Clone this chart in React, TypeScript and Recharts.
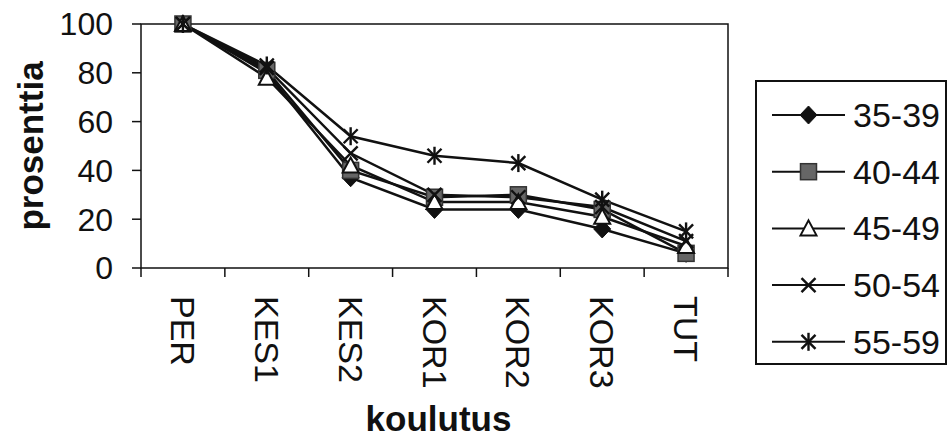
import React from 'react';
import { LineChart, Line, XAxis, YAxis, ReferenceArea, Legend } from 'recharts';

const categories = ['PER', 'KES1', 'KES2', 'KOR1', 'KOR2', 'KOR3', 'TUT'];
const s3539 = [100, 80, 37, 24, 24, 16, 6];
const s4044 = [100, 81, 40, 29, 30, 24, 6];
const s4549 = [100, 78, 42, 27, 27, 21, 9];
const s5054 = [100, 82, 47, 30, 29, 25, 11];
const s5559 = [100, 83, 54, 46, 43, 28, 15];
const seriesNames = ['35-39', '40-44', '45-49', '50-54', '55-59'];
const seriesValues = [s3539, s4044, s4549, s5054, s5559];
const markerKinds = ['diamond', 'square', 'triangle', 'x', 'star'];
const yTicks = [0, 20, 40, 60, 80, 100];

const FONT = '"Liberation Sans", Arial, Helvetica, sans-serif';
const INK = '#111';

const data = categories.map((c, i) => {
  const row: any = { cat: c, pos: i + 0.5 };
  seriesNames.forEach((n, j) => {
    row[n] = seriesValues[j][i];
  });
  return row;
});

const xTicks: number[] = [];
for (let i = 0; i <= categories.length; i++) {
  xTicks.push(i);
  if (i < categories.length) xTicks.push(i + 0.5);
}

function Marker({ kind, cx, cy }: { kind: string; cx: number; cy: number }) {
  if (cx == null || cy == null) return null;
  if (kind === 'diamond') {
    return (
      <polygon
        points={`${cx},${cy - 9} ${cx + 8.5},${cy} ${cx},${cy + 9} ${cx - 8.5},${cy}`}
        fill={INK}
        stroke={INK}
        strokeWidth={1}
      />
    );
  }
  if (kind === 'square') {
    return <rect x={cx - 8} y={cy - 8} width={16} height={16} fill="#666" stroke="#333" strokeWidth={1.5} />;
  }
  if (kind === 'triangle') {
    return (
      <polygon
        points={`${cx},${cy - 8} ${cx + 8},${cy + 7} ${cx - 8},${cy + 7}`}
        fill="#fff"
        stroke={INK}
        strokeWidth={2}
      />
    );
  }
  if (kind === 'x') {
    return (
      <g stroke={INK} strokeWidth={2.4}>
        <line x1={cx - 7} y1={cy - 7} x2={cx + 7} y2={cy + 7} />
        <line x1={cx - 7} y1={cy + 7} x2={cx + 7} y2={cy - 7} />
      </g>
    );
  }
  return (
    <g stroke={INK} strokeWidth={2.4}>
      <line x1={cx - 7} y1={cy - 7} x2={cx + 7} y2={cy + 7} />
      <line x1={cx - 7} y1={cy + 7} x2={cx + 7} y2={cy - 7} />
      <line x1={cx} y1={cy - 9} x2={cx} y2={cy + 9} />
    </g>
  );
}

function XTick(props: any) {
  const { x, y, payload } = props;
  const v = payload.value;
  if (Number.isInteger(v)) {
    return <line x1={x} y1={y} x2={x} y2={y + 9} stroke={INK} strokeWidth={1.5} />;
  }
  const label = categories[Math.floor(v)];
  const ty = y + 28;
  return (
    <text
      x={x}
      y={ty}
      transform={`rotate(90 ${x} ${ty})`}
      textAnchor="start"
      dominantBaseline="central"
      fontSize={34}
      fontFamily={FONT}
      fill={INK}
    >
      {label}
    </text>
  );
}

function LegendContent(props: any) {
  const payload = props.payload || [];
  return (
    <svg width={193} height={286} style={{ display: 'block' }}>
      <rect x={1} y={1} width={190} height={283} fill="#fff" stroke={INK} strokeWidth={2} />
      {payload.map((entry: any, i: number) => {
        const idx = seriesNames.indexOf(entry.value);
        const cy = 35 + i * 56.7;
        return (
          <g key={entry.value}>
            <line x1={17} y1={cy} x2={90} y2={cy} stroke={INK} strokeWidth={2} />
            <Marker kind={markerKinds[idx]} cx={53.5} cy={cy} />
            <text x={98} y={cy} dominantBaseline="central" fontSize={34} fontFamily={FONT} fill={INK}>
              {entry.value}
            </text>
          </g>
        );
      })}
    </svg>
  );
}

export default function App() {
  return (
    <div style={{ position: 'absolute', left: 0, top: 0, background: '#fff' }}>
      <LineChart width={948} height={444} data={data} margin={{ top: 24, right: 220, bottom: 0, left: 0 }}>
        <ReferenceArea
          x1={0}
          x2={7}
          y1={0}
          y2={100}
          fill="#fff"
          fillOpacity={0}
          stroke={INK}
          strokeWidth={1.5}
          ifOverflow="visible"
        />
        <XAxis
          type="number"
          dataKey="pos"
          domain={[0, 7]}
          ticks={xTicks}
          interval={0}
          tickLine={false}
          axisLine={false}
          tickSize={0}
          tickMargin={0}
          tick={<XTick />}
          height={176}
          label={(p: any) => {
            const vb = p.viewBox || {};
            return (
              <text
                x={vb.x + vb.width / 2 + 4}
                y={431}
                textAnchor="middle"
                fontSize={35}
                fontWeight="bold"
                fontFamily={FONT}
                fill={INK}
              >
                koulutus
              </text>
            );
          }}
        />
        <YAxis
          type="number"
          domain={[0, 100]}
          ticks={yTicks}
          interval={0}
          width={141}
          axisLine={false}
          tickLine={{ stroke: INK, strokeWidth: 1.5 }}
          tickSize={9}
          tickMargin={19}
          tick={{ fontSize: 32, fill: INK, fontFamily: FONT }}
          label={(p: any) => {
            const vb = p.viewBox || {};
            const cx = 30;
            const cy = vb.y + vb.height / 2;
            return (
              <text
                x={cx}
                y={cy}
                transform={`rotate(-90 ${cx} ${cy})`}
                textAnchor="middle"
                dominantBaseline="central"
                fontSize={35}
                fontWeight="bold"
                fontFamily={FONT}
                fill={INK}
              >
                prosenttia
              </text>
            );
          }}
        />
        {seriesNames.map((name, j) => (
          <Line
            key={name}
            dataKey={name}
            name={name}
            type="linear"
            stroke={INK}
            strokeWidth={2.5}
            isAnimationActive={false}
            dot={(p: any) => <Marker key={`${name}-${p.index}`} kind={markerKinds[j]} cx={p.cx} cy={p.cy} />}
            activeDot={false}
          />
        ))}
        <Legend
          layout="vertical"
          align="center"
          verticalAlign="middle"
          wrapperStyle={{ left: 755, top: 80, width: 193, height: 286 }}
          content={<LegendContent />}
        />
      </LineChart>
    </div>
  );
}
